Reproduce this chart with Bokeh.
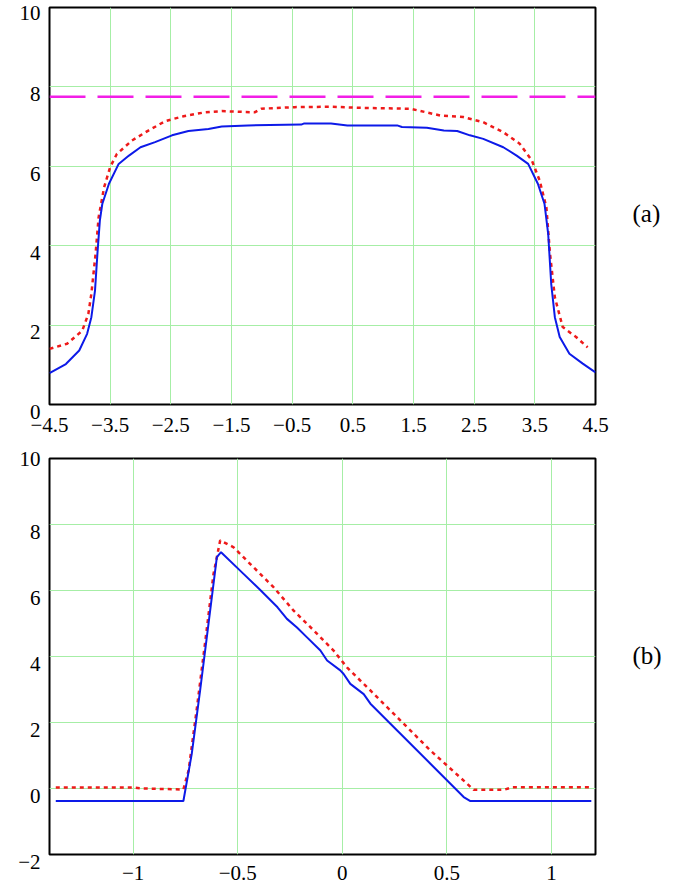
from bokeh.plotting import figure
from bokeh.layouts import column
from bokeh.models import FixedTicker, LinearAxis, Range1d
from bokeh.embed import file_html
from bokeh.resources import INLINE

FONT = "Liberation Serif"

# ---------------- panel (a) data ----------------
xa_blue = [-4.5, -4.23, -4.01, -3.88, -3.81, -3.75, -3.71, -3.67, -3.63, -3.52, -3.36, -3.19,
           -3.0, -2.76, -2.48, -2.21, -1.88, -1.66, -1.23, -0.35, -0.3, 0.14, 0.41, 1.23, 1.31,
           1.72, 2.0, 2.22, 2.43, 2.65, 2.98, 3.2, 3.39, 3.55, 3.66, 3.72, 3.77, 3.83, 3.91,
           4.07, 4.29, 4.5]
ya_blue = [0.79, 1.02, 1.36, 1.78, 2.2, 2.87, 3.8, 4.63, 5.05, 5.56, 6.06, 6.27,
           6.48, 6.61, 6.78, 6.89, 6.94, 7.0, 7.03, 7.05, 7.08, 7.08, 7.03, 7.03, 6.99,
           6.97, 6.9, 6.89, 6.78, 6.69, 6.48, 6.27, 6.06, 5.56, 5.05, 4.3, 3.04, 2.2, 1.70,
           1.28, 1.03, 0.81]
xa_red = [-4.5, -4.21, -3.96, -3.86, -3.81, -3.74, -3.69, -3.60, -3.5, -3.39, -3.14, -2.87,
          -2.59, -2.29, -1.94, -1.66, -1.12, -1.01, -0.46, 0.14, 0.69, 1.45, 1.94, 2.32, 2.65,
          2.98, 3.25, 3.45, 3.58, 3.69, 3.75, 3.83, 3.96, 4.18, 4.37]
ya_red = [1.40, 1.53, 1.86, 2.28, 2.79, 3.8, 4.72, 5.47, 5.98, 6.31, 6.65, 6.9,
          7.14, 7.26, 7.36, 7.39, 7.36, 7.45, 7.49, 7.5, 7.47, 7.45, 7.28, 7.24, 7.11,
          6.86, 6.57, 6.15, 5.64, 4.97, 3.8, 2.70, 1.95, 1.70, 1.44]
xa_limit = [-4.5, 4.5]
ya_limit = [7.75, 7.75]
xa_ticks = [-4.5, -3.5, -2.5, -1.5, -0.5, 0.5, 1.5, 2.5, 3.5, 4.5]
xa_labels = ["\u22124.5", "\u22123.5", "\u22122.5", "\u22121.5", "\u22120.5",
             "0.5", "1.5", "2.5", "3.5", "4.5"]
ya_ticks = [0, 2, 4, 6, 8, 10]
ya_labels = ["0", "2", "4", "6", "8", "10"]

# ---------------- panel (b) data ----------------
xb_blue = [-1.37, -0.76, -0.72, -0.68, -0.64, -0.60, -0.58, -0.49, -0.39, -0.31, -0.265,
           -0.217, -0.169, -0.105, -0.073, -0.01, 0.006, 0.038, 0.102, 0.134, 0.262, 0.421,
           0.58, 0.612, 1.19]
yb_blue = [-0.38, -0.38, 1.05, 2.97, 4.99, 7.01, 7.16, 6.61, 6.0, 5.49, 5.14,
           4.88, 4.58, 4.18, 3.88, 3.58, 3.47, 3.17, 2.86, 2.57, 1.76, 0.75,
           -0.26, -0.38, -0.38]
xb_red = [-1.37, -1.0, -0.95, -0.76, -0.735, -0.695, -0.655, -0.616, -0.584, -0.52, -0.424,
          -0.329, -0.233, -0.137, -0.042, 0.022, 0.134, 0.262, 0.421, 0.58, 0.628, 0.772,
          0.812, 1.19]
yb_red = [0.03, 0.03, 0.0, -0.03, 0.55, 2.46, 4.48, 6.5, 7.52, 7.31, 6.70,
          6.1, 5.39, 4.79, 4.18, 3.67, 2.97, 2.16, 1.15, 0.24, -0.04, -0.04,
          0.04, 0.04]
xb_ticks = [-1, -0.5, 0, 0.5, 1]
xb_labels = ["\u22121", "\u22120.5", "0", "0.5", "1"]
yb_ticks = [-2, 0, 2, 4, 6, 8, 10]
yb_labels = ["\u22122", "0", "2", "4", "6", "8", "10"]

BLUE = "#0d1ae8"
RED = "#ee1a1a"
MAGENTA = "#f21ee6"
GRID = "#a6eea6"
TICK_SIZE = "21px"


def style_axis(ax):
    ax.axis_line_color = None
    ax.major_tick_line_color = None
    ax.minor_tick_line_color = None
    ax.major_tick_out = 0
    ax.major_tick_in = 0
    ax.minor_tick_out = 0
    ax.minor_tick_in = 0
    ax.major_label_text_font = FONT
    ax.major_label_text_font_size = TICK_SIZE
    ax.major_label_text_color = "black"


def make_fig(xr, yr, xticks, xlabels, yticks, ylabels, height, top, bottom,
             tag, tag_y, xstand):
    p = figure(width=676, height=height, x_range=Range1d(*xr), y_range=Range1d(*yr),
               output_backend="svg", toolbar_location=None,
               min_border_left=49, min_border_right=81,
               min_border_top=top, min_border_bottom=bottom)
    p.outline_line_color = "black"
    p.outline_line_width = 2
    p.outline_line_alpha = 1.0
    xa, ya = p.xaxis[0], p.yaxis[0]
    style_axis(xa)
    style_axis(ya)
    xa.ticker = FixedTicker(ticks=xticks)
    xa.major_label_overrides = {t: l for t, l in zip(xticks, xlabels)}
    xa.major_label_standoff = xstand
    # labels hang below their tick value (one blank line above each),
    # except the topmost one, which sits at the frame's top edge
    ya.ticker = FixedTicker(ticks=yticks)
    overrides = {t: "\n" + l for t, l in zip(yticks, ylabels)}
    overrides[yticks[-1]] = ylabels[-1]
    ya.major_label_overrides = overrides
    ya.major_label_text_line_height = 0.6
    ya.major_label_standoff = 9
    p.xgrid[0].ticker = FixedTicker(ticks=xticks)
    p.ygrid[0].ticker = FixedTicker(ticks=yticks)
    p.grid.grid_line_color = GRID
    p.grid.grid_line_width = 1
    p.grid.grid_line_alpha = 1.0

    tag_axis = LinearAxis(ticker=FixedTicker(ticks=[tag_y]),
                          major_label_overrides={tag_y: tag})
    style_axis(tag_axis)
    tag_axis.major_label_text_font_size = "25px"
    tag_axis.major_label_standoff = 37
    p.add_layout(tag_axis, "right")
    return p


pa = make_fig((-4.5, 4.5), (0, 10), xa_ticks, xa_labels, ya_ticks, ya_labels,
              442, 7, 38, "(a)", 4.81, 13)
pa.line(xa_limit, ya_limit, line_color=MAGENTA, line_width=2.5, line_dash="36 12")
pa.line(xa_red, ya_red, line_color=RED, line_width=2.5, line_dash="4 4")
pa.line(xa_blue, ya_blue, line_color=BLUE, line_width=2)

pb = make_fig((-1.4, 1.21), (-2, 10), xb_ticks, xb_labels, yb_ticks, yb_labels,
              448, 16, 36, "(b)", 4.03, 11)
pb.line(xb_red, yb_red, line_color=RED, line_width=2.5, line_dash="4 4")
pb.line(xb_blue, yb_blue, line_color=BLUE, line_width=2)

layout = column(pa, pb, spacing=0)
open("out.html", "w").write(file_html(layout, INLINE))
